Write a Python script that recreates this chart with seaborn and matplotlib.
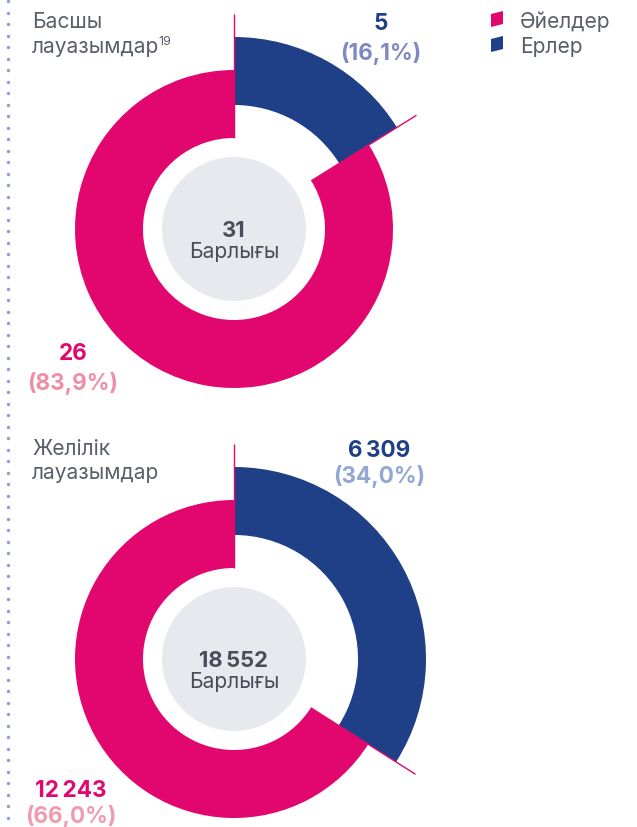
import matplotlib
matplotlib.use("Agg")
import matplotlib.pyplot as plt
from matplotlib.patches import Circle, Polygon
import numpy as np
import seaborn as sns

# ---- data ----
groups = ["Басшы\nлауазымдар", "Желілік\nлауазымдар"]
group_notes = ["19", ""]
women = [26, 12243]
men = [5, 6309]
series_names = ["Әйелдер", "Ерлер"]
total_caption = "Барлығы"

# ---- style ----
sns.set_theme(style="white")
plt.rcParams["font.family"] = ["Inter", "DejaVu Sans"]

PINK = "#e2076f"
NAVY = "#1f3f87"
CORE = "#e8e9ef"
GREY_TXT = "#5a5e6a"
DARK_TXT = "#4a4d58"
DOTS = "#8c9dcf"
MEN_PCT = ["#7f88c1", "#92a7d4"]
WOMEN_PCT = ["#ef8ea7", "#f09ab1"]

W, H = 637, 828
fig = plt.figure(figsize=(W / 100, H / 100), dpi=100)
ax = fig.add_axes([0, 0, 1, 1])
PX = 0.72  # points per pixel at 100 dpi


def Y(p):
    return H - p


def fmt_int(v):
    return f"{v:,}".replace(",", "\u2009")


def fmt_pct(v):
    return f"({v:.1f}%)".replace(".", ",")


centers = [(234, 230), (234, 660)]
R_OUT_MEN, R_OUT_WOMEN, RING = 192, 159, 68
R_CORE, R_LINE0, R_LINE1 = 72, 91, 215

men_lbl = [(381, 30, 60), (379, 457, 483)]
women_lbl = [(73, 360, 390), (71, 797, 823)]
title_pos = [(32, 28, 52.5), (32, 455, 479)]

for i, (cx, cy) in enumerate(centers):
    c = (cx, Y(cy))
    vals = [men[i], women[i]]
    total = sum(vals)
    ax.pie(vals, colors=[NAVY, "none"], radius=R_OUT_MEN, center=c,
           startangle=90, counterclock=False, frame=True,
           wedgeprops=dict(width=RING, edgecolor="none", linewidth=0))
    ax.pie(vals, colors=["none", PINK], radius=R_OUT_WOMEN, center=c,
           startangle=90, counterclock=False, frame=True,
           wedgeprops=dict(width=RING, edgecolor="none", linewidth=0))
    ax.add_patch(Circle(c, R_CORE, facecolor=CORE, edgecolor="none", zorder=3))

    # separator rays at both segment boundaries
    for ang in (90, 90 - 360 * men[i] / total):
        a = np.deg2rad(ang)
        ax.plot([cx + R_LINE0 * np.cos(a), cx + R_LINE1 * np.cos(a)],
                [Y(cy) + R_LINE0 * np.sin(a), Y(cy) + R_LINE1 * np.sin(a)],
                color=PINK, lw=1.0, solid_capstyle="butt", zorder=4)

ax.set_xlim(0, W)
ax.set_ylim(0, H)
ax.set_aspect("equal")
ax.axis("off")

for i, (cx, cy) in enumerate(centers):
    total = men[i] + women[i]
    # centre total
    ax.text(cx, Y(cy + 7), fmt_int(total), ha="center", va="baseline",
            fontsize=22 * PX, fontweight="bold", color=DARK_TXT, zorder=5)
    ax.text(cx, Y(cy + 28), total_caption, ha="center", va="baseline",
            fontsize=21 * PX, color=DARK_TXT, zorder=5)

    # segment value labels
    x, b1, b2 = men_lbl[i]
    ax.text(x, Y(b1), fmt_int(men[i]), ha="center", va="baseline",
            fontsize=22.5 * PX, fontweight="bold", color=NAVY)
    ax.text(x, Y(b2), fmt_pct(100 * men[i] / total), ha="center", va="baseline",
            fontsize=22.5 * PX, fontweight="bold", color=MEN_PCT[i])
    x, b1, b2 = women_lbl[i]
    ax.text(x, Y(b1), fmt_int(women[i]), ha="center", va="baseline",
            fontsize=22.5 * PX, fontweight="bold", color=PINK)
    ax.text(x, Y(b2), fmt_pct(100 * women[i] / total), ha="center", va="baseline",
            fontsize=22.5 * PX, fontweight="bold", color=WOMEN_PCT[i])

    # group title
    tx, tb1, tb2 = title_pos[i]
    l1, l2 = groups[i].split("\n")
    ax.text(tx, Y(tb1), l1, ha="left", va="baseline", fontsize=21 * PX, color=GREY_TXT)
    t2 = ax.text(tx, Y(tb2), l2, ha="left", va="baseline", fontsize=21 * PX, color=GREY_TXT)
    if group_notes[i]:
        fig.canvas.draw()
        bb = t2.get_window_extent()  # display pixels == data units here
        ax.text(bb.x1 - 1, Y(tb2 - 8), group_notes[i], ha="left", va="baseline",
                fontsize=12.5 * PX, color=GREY_TXT)

# legend with slanted swatches
for k, (name, col) in enumerate(zip(series_names, [PINK, NAVY])):
    base = 28 + 25 * k
    x0, x1 = 491, 503
    pts = [(x0, Y(base)), (x1, Y(base - 3)), (x1, Y(base - 16)), (x0, Y(base - 13))]
    ax.add_patch(Polygon(pts, closed=True, facecolor=col, edgecolor="none"))
    ax.text(520, Y(base), name, ha="left", va="baseline", fontsize=21 * PX, color=GREY_TXT)

# dotted rule on the left edge
dy = np.arange(2, H, 11.5)
ax.scatter(np.full_like(dy, 8.0), Y(dy), s=6, color=DOTS, linewidths=0)

ax.set_xlim(0, W)
ax.set_ylim(0, H)
fig.savefig("out.png", dpi=100, facecolor="white")
